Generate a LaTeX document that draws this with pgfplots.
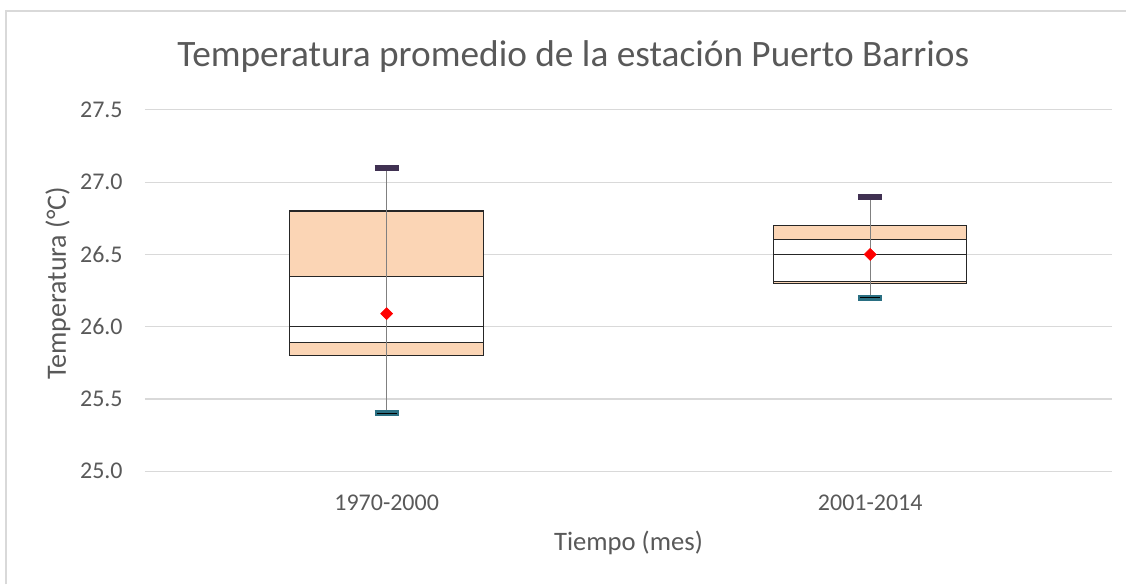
\documentclass[border=0pt]{standalone}
\usepackage{fontspec}
\setmainfont{Carlito}
\usepackage{pgfplots}
\pgfplotsset{compat=1.18}

\definecolor{txt}{HTML}{595959}
\definecolor{gridc}{HTML}{D9D9D9}
\definecolor{peach}{HTML}{FBD5B5}
\definecolor{boxline}{HTML}{262626}
\definecolor{whisk}{HTML}{808080}
\definecolor{captop}{HTML}{403152}
\definecolor{capbot}{HTML}{2A6F82}

\pgfplotsset{
  plotframe/.style={
    at={(108.75pt,85pt)}, anchor=south west,
    scale only axis, width=726pt, height=271.3pt,
    xmin=0, xmax=2, ymin=25, ymax=27.5,
  },
}

\begin{document}
\begin{tikzpicture}
% page = 1127 x 585 px at 0.75pt per px, origin bottom left
\path (0pt,0pt) rectangle (845.25pt,438.75pt);
\draw[gridc, line width=1.5pt] (4.5pt,0pt) -- (4.5pt,430.5pt) -- (845.25pt,430.5pt);

\begin{axis}[
  plotframe,
  ytick={25,25.5,...,27.5},
  xtick={0.5,1.5}, xticklabels={1970-2000,2001-2014},
  ymajorgrids, xmajorgrids=false, major grid style={draw=gridc, line width=0.9pt},
  axis line style={draw=none}, major tick length=0pt,
  ybar stacked, bar width=0.4,
  /pgf/number format/assume math mode=true,
  yticklabel style={/pgf/number format/fixed, /pgf/number format/fixed zerofill,
    /pgf/number format/precision=1, font=\fontsize{18}{20}\selectfont, text=txt,
    anchor=east, inner sep=0pt, xshift=-16.5pt},
  xticklabel style={font=\fontsize{18}{20}\selectfont, text=txt,
    anchor=center, inner sep=0pt, yshift=-24pt},
  title={Temperatura promedio de la estación Puerto Barrios},
  title style={at={(axis description cs:0.443,1.124)}, anchor=center,
    font=\fontsize{28}{30}\selectfont, text=txt},
  xlabel={Tiempo (mes)},
  xlabel style={at={(axis description cs:0.5,-0.197)}, anchor=center,
    font=\fontsize{20}{22}\selectfont, text=txt},
  ylabel={Temperatura (°C)},
  ylabel style={at={(axis description cs:-0.09,0.52)}, anchor=center,
    font=\fontsize{21}{22}\selectfont, text=txt},
  clip=false,
]
% invisible base (Q1)
\addplot[fill=none, draw=none] coordinates {(0.5,25.80) (1.5,26.30)};
\addplot[fill=peach, draw=boxline, line width=0.8pt] coordinates {(0.5,0.09) (1.5,0.01)};
\addplot[fill=white, draw=boxline, line width=0.8pt] coordinates {(0.5,0.11) (1.5,0.19)};
\addplot[fill=white, draw=boxline, line width=0.8pt] coordinates {(0.5,0.35) (1.5,0.10)};
\addplot[fill=peach, draw=boxline, line width=0.8pt] coordinates {(0.5,0.45) (1.5,0.10)};
\end{axis}

% whiskers, caps and means on the same frame (not stacked)
\begin{axis}[plotframe, hide axis, clip=false]
\addplot[whisk, line width=1pt] coordinates {(0.5,25.40) (0.5,27.10)};
\addplot[whisk, line width=1pt] coordinates {(1.5,26.20) (1.5,26.90)};
% upper caps
\addplot[captop, line width=4.5pt] coordinates {(0.475,27.10) (0.525,27.10)};
\addplot[captop, line width=4.5pt] coordinates {(1.475,26.90) (1.525,26.90)};
% lower caps
\addplot[capbot, line width=4.5pt] coordinates {(0.475,25.40) (0.525,25.40)};
\addplot[capbot, line width=4.5pt] coordinates {(1.475,26.20) (1.525,26.20)};
\addplot[black, line width=1pt] coordinates {(0.479,25.40) (0.521,25.40)};
\addplot[black, line width=1pt] coordinates {(1.479,26.20) (1.521,26.20)};
% means
\addplot[only marks, mark=square*, mark size=3.2pt, mark options={rotate=45, fill=red, draw=red}]
  coordinates {(0.5,26.09) (1.5,26.50)};
\end{axis}
\end{tikzpicture}
\end{document}
